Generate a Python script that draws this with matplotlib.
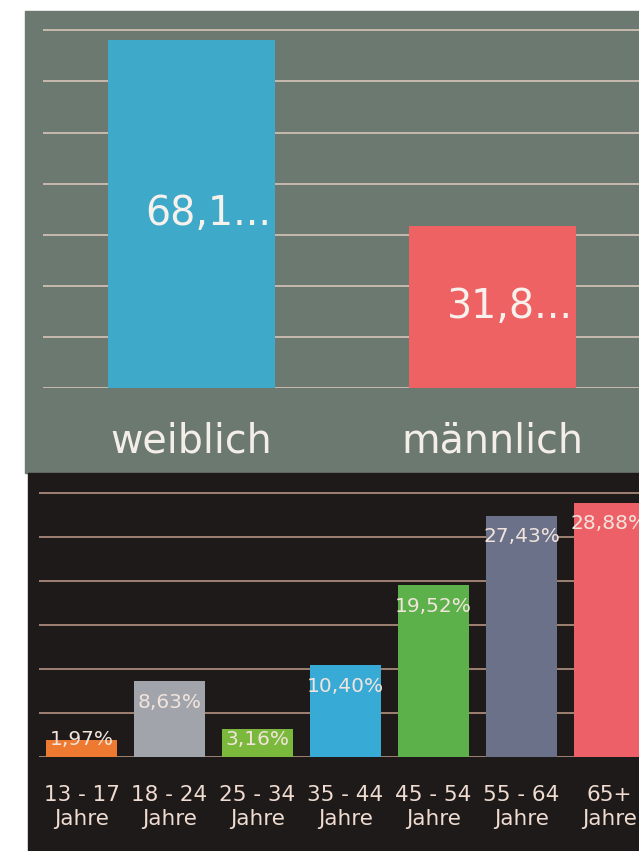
import matplotlib
matplotlib.use("Agg")
import matplotlib.pyplot as plt
from matplotlib.patches import Rectangle

# Daten
geschlecht = ["weiblich", "männlich"]
geschlecht_werte = [68.1, 31.8]
geschlecht_text = ["68,1...", "31,8..."]

alter = ["13 - 17\nJahre", "18 - 24\nJahre", "25 - 34\nJahre", "35 - 44\nJahre",
         "45 - 54\nJahre", "55 - 64\nJahre", "65+\nJahre"]
alter_werte = [1.97, 8.63, 3.16, 10.40, 19.52, 27.43, 28.88]

farben_geschlecht = ["#3fa9c9", "#ee6264"]
farben_alter = ["#ee7a32", "#a1a5ab", "#7bb93c", "#38aad6", "#5cb14a", "#6a7189", "#ee6068"]

W, H = 639, 851
fig = plt.figure(figsize=(W / 100, H / 100), dpi=100)
fig.patch.set_facecolor("white")

def box(x0, y0, x1, y1):
    # Pixelkoordinaten (oben links) -> figure-Koordinaten
    return [x0 / W, 1 - y1 / H, (x1 - x0) / W, (y1 - y0) / H]

# Hintergrund-Flächen
fig.add_artist(Rectangle((25 / W, 1 - 473 / H), (W - 25) / W, (473 - 11) / H,
                         transform=fig.transFigure, color="#6c7970", zorder=0))
fig.add_artist(Rectangle((28 / W, 0), (W - 28) / W, 1 - 473 / H,
                         transform=fig.transFigure, color="#1e1a1a", zorder=0))

# --- oben: Geschlecht ---
ax1 = fig.add_axes(box(43, 11, 639, 388))
ax1.set_facecolor("none")
ax1.set_xlim(-0.494, 1.486)
ax1.set_ylim(0, 73.8)
for y in range(0, 80, 10):
    ax1.axhline(y, color="#cdbfb2", lw=1.3, zorder=1)
x1 = range(len(geschlecht))
ax1.bar(x1, geschlecht_werte, width=0.555, color=farben_geschlecht, zorder=2)
for i, (v, t) in enumerate(zip(geschlecht_werte, geschlecht_text)):
    ax1.text(i + 0.056, v / 2, t, ha="center", va="center",
             fontsize=28.5, color="#f6f1ec", zorder=3)
ax1.set_xticks(list(x1), geschlecht)
ax1.tick_params(axis="x", length=0, pad=24, labelsize=28.5, labelcolor="#f4eee8")
ax1.set_yticks([])
for s in ax1.spines.values():
    s.set_visible(False)

# --- unten: Altersgruppen ---
ax2 = fig.add_axes(box(39, 473, 639, 757))
ax2.set_facecolor("none")
ax2.set_xlim(-0.483, 6.335)
ax2.set_ylim(0, 32.27)
for y in range(0, 35, 5):
    ax2.axhline(y, color="#a8897a", lw=1.3, zorder=1)
x2 = range(len(alter))
ax2.bar(x2, alter_werte, width=0.8, color=farben_alter, zorder=2)
for i, v in enumerate(alter_werte):
    y = v - 2.4 if v > 5 else 2.0
    ax2.text(i, y, f"{v:.2f}%".replace(".", ","), ha="center", va="center",
             fontsize=14.5, color="#f2e4dc", zorder=3)
ax2.set_xticks(list(x2), alter)
ax2.tick_params(axis="x", length=0, pad=20, labelsize=15.5, labelcolor="#f0dcd0")
for lab in ax2.get_xticklabels():
    lab.set_linespacing(1.25)
ax2.set_yticks([])
for s in ax2.spines.values():
    s.set_visible(False)

fig.savefig("out.png", dpi=100)
